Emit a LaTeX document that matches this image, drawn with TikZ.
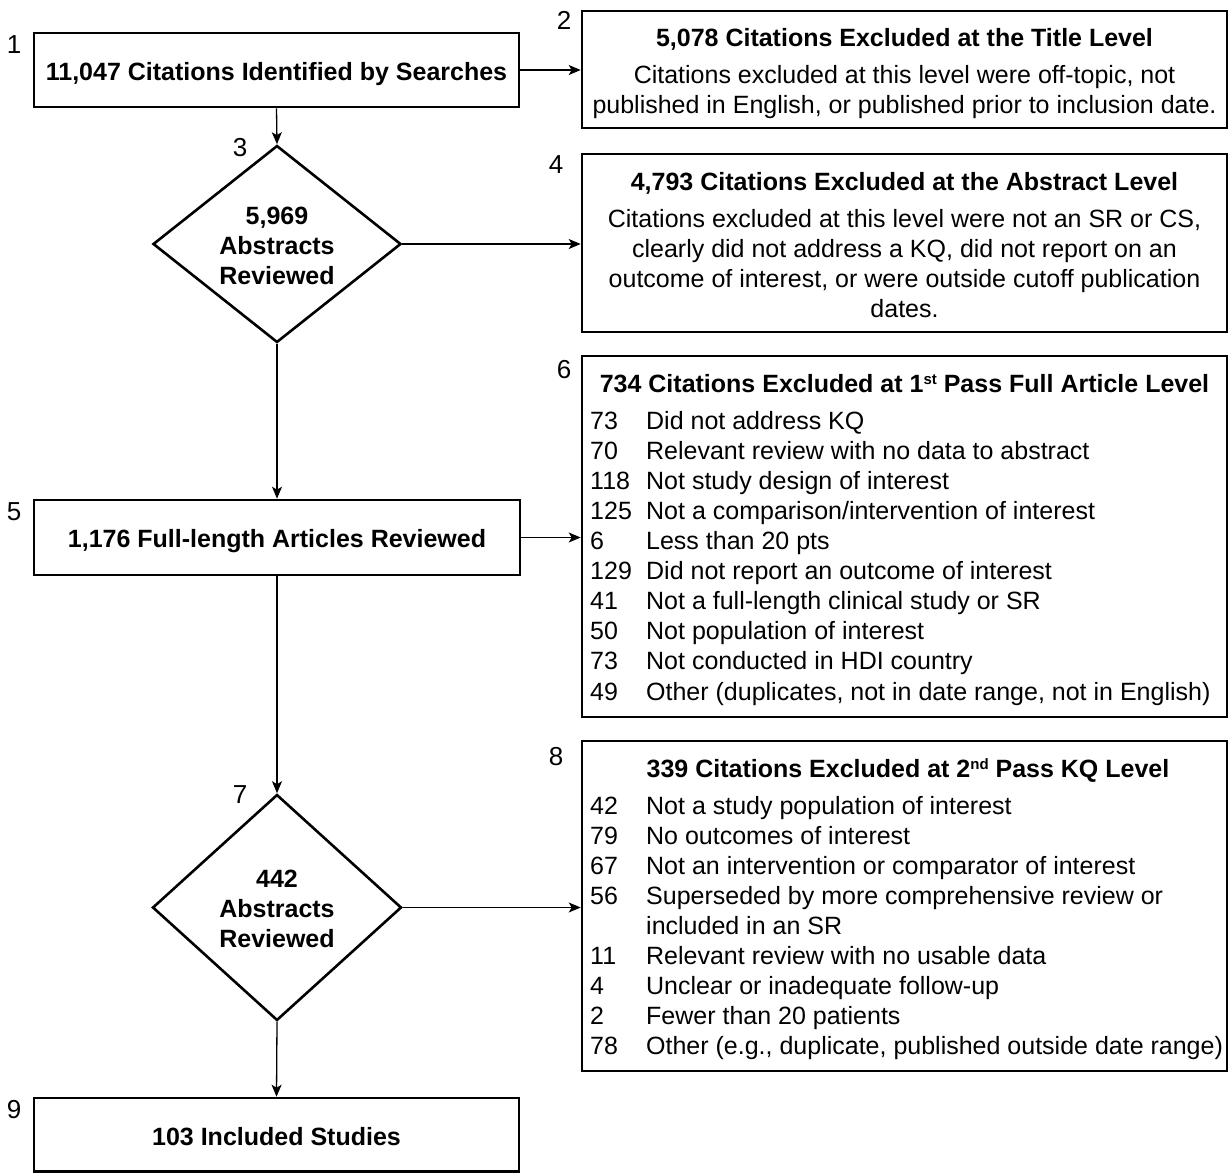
\documentclass[tikz,border=0pt]{standalone}
\usepackage{fontspec}
\setmainfont{Liberation Sans}
\usetikzlibrary{arrows.meta,shapes.geometric}
\newcommand{\supx}[1]{\raisebox{8pt}{\fontsize{15}{15}\selectfont\bfseries #1}}
\begin{document}
\begin{tikzpicture}[x=1pt,y=-1pt,
  box/.style={draw, line width=2.6pt, inner sep=0pt, rectangle},
  dia/.style={draw, line width=2.6pt, inner sep=0pt, diamond},
  txt/.style={inner sep=0pt, font=\fontsize{25}{30.1}\selectfont},
  btxt/.style={inner sep=0pt, font=\fontsize{25}{30.1}\selectfont\bfseries},
  num/.style={inner sep=0pt, font=\fontsize{26}{30.1}\selectfont},
  arr/.style={-{Stealth[length=12pt,width=10pt,inset=3pt]}, line width=1.3pt}]
\useasboundingbox (0,0) rectangle (1229,1173);
\fill[white] (0,0) rectangle (1229,1173);

% boxes
\node[box, minimum width=485pt, minimum height=74pt] (b1) at (276.5,70) {};
\node[box, minimum width=645pt, minimum height=117pt] (b2) at (904.5,69.5) {};
\node[box, minimum width=645pt, minimum height=178pt] (b4) at (904.5,243) {};
\node[box, minimum width=486pt, minimum height=75pt] (b5) at (277,537.5) {};
\node[box, minimum width=645pt, minimum height=361pt] (b6) at (904.5,536.5) {};
\node[box, minimum width=645pt, minimum height=330pt] (b8) at (904.5,906) {};
\node[box, minimum width=485pt, minimum height=73.5pt] (b9) at (276.5,1134.75) {};
\node[dia, minimum width=248pt, minimum height=197pt] (d1) at (277,244) {};
\node[dia, minimum width=249pt, minimum height=226pt] (d2) at (277,907.5) {};

% step numbers
\node[num] (n1) at (14,45) {1};
\node[num] (n2) at (564,20) {2};
\node[num] (n3) at (240,148) {3};
\node[num] (n4) at (556,165) {4};
\node[num] (n5) at (14,512) {5};
\node[num] (n6) at (564,370) {6};
\node[num] (n7) at (240,795) {7};
\node[num] (n8) at (556,757) {8};
\node[num] (n9) at (14,1110) {9};

% texts
\node[btxt, anchor=base] (t1) at (276.5,80) {11,047 Citations Identified by Searches};

\node[btxt, anchor=base] (t2) at (904.5,46) {5,078 Citations Excluded at the Title Level};
\node[txt, anchor=north] (t2b) at (904.5,62) {\begin{tabular}{@{}c@{}}Citations excluded at this level were off-topic, not\\published in English, or published prior to inclusion date.\end{tabular}};

\node[btxt, anchor=north] (t3) at (277,203) {\begin{tabular}{@{}c@{}}5,969\\Abstracts\\Reviewed\end{tabular}};

\node[btxt, anchor=base] (t4) at (904.5,190) {4,793 Citations Excluded at the Abstract Level};
\node[txt, anchor=north] (t4b) at (904.5,206) {\begin{tabular}{@{}c@{}}Citations excluded at this level were not an SR or CS,\\clearly did not address a KQ, did not report on an\\outcome of interest, or were outside cutoff publication\\dates.\end{tabular}};

\node[btxt, anchor=base] (t5) at (277,547) {1,176 Full-length Articles Reviewed};

\node[btxt, anchor=base] (t6) at (904.5,392) {734 Citations Excluded at 1\supx{st} Pass Full Article Level};
\node[txt, anchor=north west] (t6b) at (590,407.9) {\begin{tabular}{@{}p{56pt}@{}l@{}}
73 & Did not address KQ\\
70 & Relevant review with no data to abstract\\
118 & Not study design of interest\\
125 & Not a comparison/intervention of interest\\
6 & Less than 20 pts\\
129 & Did not report an outcome of interest\\
41 & Not a full-length clinical study or SR\\
50 & Not population of interest\\
73 & Not conducted in HDI country\\
49 & Other (duplicates, not in date range, not in English)
\end{tabular}};

\node[btxt, anchor=north] (t7) at (277,866) {\begin{tabular}{@{}c@{}}442\\Abstracts\\Reviewed\end{tabular}};

\node[btxt, anchor=base] (t8) at (908,777) {339 Citations Excluded at 2\supx{nd} Pass KQ Level};
\node[txt, anchor=north west] (t8b) at (590,792.9) {\begin{tabular}{@{}p{56pt}@{}l@{}}
42 & Not a study population of interest\\
79 & No outcomes of interest\\
67 & Not an intervention or comparator of interest\\
56 & Superseded by more comprehensive review or\\
 & included in an SR\\
11 & Relevant review with no usable data\\
4 & Unclear or inadequate follow-up\\
2 & Fewer than 20 patients\\
78 & Other (e.g., duplicate, published outside date range)
\end{tabular}};

\node[btxt, anchor=base] (t9) at (276.5,1145) {103 Included Studies};

% connectors
\draw[arr] (b1.east) -- (b1.east -| b2.west);
\draw[arr] (b1.south) -- (d1.north);
\draw[arr] (d1.east) -- (d1.east -| b4.west);
\draw[arr] (d1.south) -- (b5.north);
\draw[arr] (b5.east) -- (b5.east -| b6.west);
\draw[arr] (b5.south) -- (d2.north);
\draw[arr] (d2.east) -- (d2.east -| b8.west);
\draw[arr] (d2.south) -- (b9.north);
\end{tikzpicture}
\end{document}
